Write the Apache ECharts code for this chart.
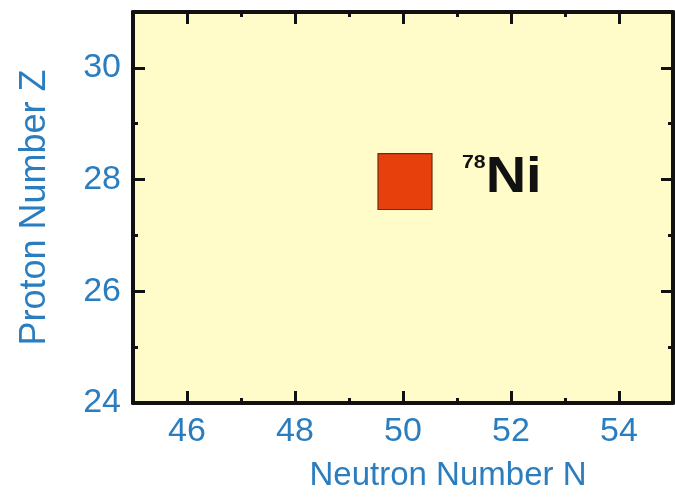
<!DOCTYPE html>
<html>
<head>
<meta charset="utf-8">
<style>
  html, body { margin: 0; padding: 0; background: #fff; }
  #chart { width: 675px; height: 499px; }
</style>
<script src="https://cdn.jsdelivr.net/npm/echarts@6/dist/echarts.min.js"></script>
</head>
<body>
<div id="chart"></div>
<script>
  // axis ranges + ticks
  const X_MIN = 45, X_MAX = 55;
  const Y_MIN = 24, Y_MAX = 31;
  const xMajor = [46, 48, 50, 52, 54];
  const xMinor = [47, 49, 51, 53];
  const yMajor = [24, 26, 28, 30];
  const yMinor = [25, 27, 29];

  // the one nucleus shown: [N, Z, mass number, symbol]
  const nuclei = [[50, 28, 78, "Ni"]];

  const BLUE = "#2a7dbf";
  const FONT = "Liberation Sans";

  const chart = echarts.init(document.getElementById("chart"), null, { renderer: "canvas" });

  // one axis = one set of ticks; frame is built from 4 x + 4 y axes
  function axisBase(min, max, position, ticks, tickLen, labels, line) {
    return {
      type: "value",
      min: min,
      max: max,
      position: position,
      axisLine: { show: line, lineStyle: { color: "#111", width: 4 } },
      axisTick: { show: true, inside: true, length: tickLen, customValues: ticks,
                  lineStyle: { color: "#111", width: 3 } },
      axisLabel: labels ? {
        show: true, customValues: labels, margin: 12,
        color: BLUE, fontSize: 34, fontFamily: FONT
      } : { show: false },
      splitLine: { show: false }
    };
  }

  const xAxes = [
    Object.assign(axisBase(X_MIN, X_MAX, "bottom", xMajor, 12, xMajor, true), {
      name: "Neutron Number N",
      nameLocation: "middle",
      nameGap: 56,
      nameTextStyle: { color: BLUE, fontSize: 33, fontFamily: FONT, padding: [0, 0, 0, 90] }
    }),
    axisBase(X_MIN, X_MAX, "bottom", xMinor, 5, null, false),
    axisBase(X_MIN, X_MAX, "top", xMajor, 12, null, true),
    axisBase(X_MIN, X_MAX, "top", xMinor, 5, null, false)
  ];

  const yAxes = [
    Object.assign(axisBase(Y_MIN, Y_MAX, "left", yMajor, 12, yMajor, true), {
      name: "Proton Number Z",
      nameLocation: "middle",
      nameGap: 80,
      nameRotate: 90,
      nameTextStyle: { color: BLUE, fontSize: 36, fontFamily: FONT }
    }),
    axisBase(Y_MIN, Y_MAX, "left", yMinor, 5, null, false),
    axisBase(Y_MIN, Y_MAX, "right", yMajor, 12, null, true),
    axisBase(Y_MIN, Y_MAX, "right", yMinor, 5, null, false)
  ];

  const option = {
    animation: false,
    backgroundColor: "#ffffff",
    grid: {
      left: 133, right: 2, top: 12, bottom: 96,
      show: true, backgroundColor: "#fffcc9", borderWidth: 0
    },
    xAxis: xAxes,
    yAxis: yAxes,
    series: [
      {
        type: "custom",
        xAxisIndex: 0,
        yAxisIndex: 0,
        data: nuclei,
        renderItem: function (params, api) {
          const n = api.value(0), z = api.value(1);
          const a = nuclei[params.dataIndex][2];
          const sym = nuclei[params.dataIndex][3];
          const p0 = api.coord([n - 0.5, z + 0.5]);
          const p1 = api.coord([n + 0.5, z - 0.5]);
          const mid = api.coord([n, z]);
          return {
            type: "group",
            children: [
              {
                type: "rect",
                shape: { x: p0[0] + 2, y: p0[1] + 2, width: p1[0] - p0[0], height: p1[1] - p0[1] },
                style: { fill: "#e8400c", stroke: "#6e2c12", lineWidth: 1.2 }
              },
              {
                type: "text",
                x: p1[0] + 32,
                y: mid[1] - 1,
                scaleX: 1.12,
                style: {
                  text: "{sup|" + a + "}{el|" + sym + "}",
                  verticalAlign: "middle",
                  align: "left",
                  rich: {
                    sup: { fontSize: 19, fontWeight: "bold", fontFamily: FONT, fill: "#111",
                           verticalAlign: "top" },
                    el: { fontSize: 50, fontWeight: "bold", fontFamily: FONT, fill: "#111" }
                  }
                }
              }
            ]
          };
        }
      }
    ]
  };

  chart.setOption(option);
</script>
</body>
</html>
